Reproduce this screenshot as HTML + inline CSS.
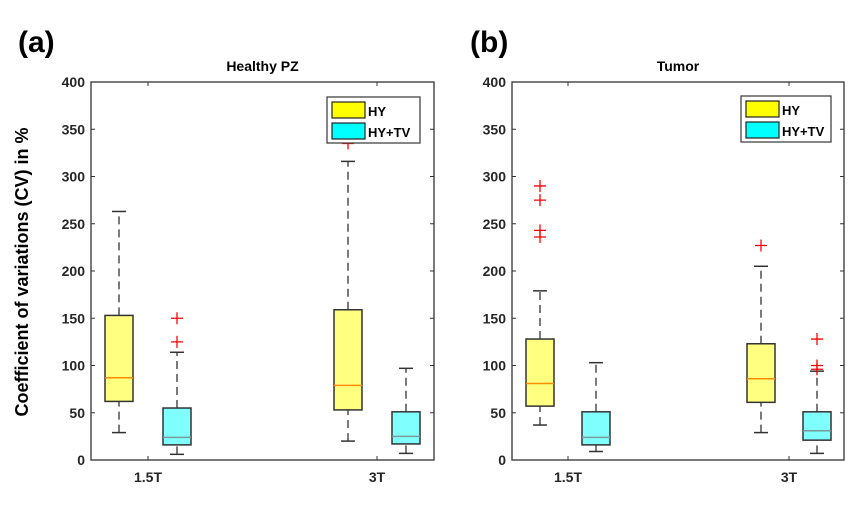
<!DOCTYPE html>
<html><head><meta charset="utf-8"><style>
body{margin:0;background:#fff;}
svg text{font-family:"Liberation Sans",Arial,sans-serif;font-weight:bold;fill:#262626;}
</style></head><body>
<svg id="chart" width="850" height="512" xmlns="http://www.w3.org/2000/svg">
<text x="18" y="52" font-size="30" style="fill:#000">(a)</text>
<text x="470" y="52" font-size="30" style="fill:#000">(b)</text>
<text transform="translate(28,272) rotate(-90)" text-anchor="middle" font-size="18" style="fill:#000">Coefficient of variations (CV) in %</text>
</svg>
<script>
const categories = ["1.5T","3T"];
const yTicks = [0,50,100,150,200,250,300,350,400];
// [low whisker, q1, median, q3, high whisker]
const healthyHY = [[29,62,87,153,263],[20,53,79,159,316]];
const healthyTV = [[6,16,24,55,114],[7,17,25,51,97]];
const healthyHYOut = [[],[335]];
const healthyTVOut = [[125,150],[]];
const tumorHY = [[37,57,81,128,179],[29,61,86,123,205]];
const tumorTV = [[9,16,24,51,103],[7,21,31,51,94]];
const tumorHYOut = [[290,275,243,236],[227]];
const tumorTVOut = [[],[128,100,96]];

const svg = document.getElementById('chart');
const NS = 'http://www.w3.org/2000/svg';
function mk(tag, attrs, parent){const e=document.createElementNS(NS,tag);for(const k in attrs)e.setAttribute(k,attrs[k]);(parent||svg).appendChild(e);return e;}

function panel(cfg){
  const g = mk('g',{});
  
  
  const top=82,bottom=460,L=cfg.left,R=cfg.right;
  const y = v => bottom - (v/400)*(bottom-top);
  const x = i => cfg.ticks[i];
  const t = mk('text',{x:(L+R)/2,y:71,'text-anchor':'middle','font-size':14,style:'fill:#000'},g);
  t.textContent = cfg.title;
  
  
  yTicks.forEach(v=>{
    mk('line',{x1:L,x2:L+4,y1:y(v),y2:y(v),stroke:'#333'},g);
    mk('line',{x1:R,x2:R-4,y1:y(v),y2:y(v),stroke:'#333'},g);
    const lt = mk('text',{x:L-6,y:y(v)+5,'text-anchor':'end','font-size':14},g);
    lt.textContent = v;
    
    
  });
  categories.forEach((c,i)=>{
    mk('line',{x1:x(i),x2:x(i),y1:bottom,y2:bottom-4,stroke:'#333'},g);
    mk('line',{x1:x(i),x2:x(i),y1:top,y2:top+4,stroke:'#333'},g);
    const ct = mk('text',{x:x(i),y:bottom+22,'text-anchor':'middle','font-size':14},g);
    ct.textContent = c;
    
    
  });
  function box(d, cx, fill, medColor, outs){
    const w=28;
    const bg = mk('g',{},g);
    
    
    mk('line',{x1:cx,x2:cx,y1:y(d[0]),y2:y(d[1]),stroke:'#333','stroke-dasharray':'8,5','stroke-width':1.3},bg);
    mk('line',{x1:cx,x2:cx,y1:y(d[3]),y2:y(d[4]),stroke:'#333','stroke-dasharray':'8,5','stroke-width':1.3},bg);
    mk('line',{x1:cx-7,x2:cx+7,y1:y(d[0]),y2:y(d[0]),stroke:'#333','stroke-width':1.5},bg);
    mk('line',{x1:cx-7,x2:cx+7,y1:y(d[4]),y2:y(d[4]),stroke:'#333','stroke-width':1.5},bg);
    mk('rect',{x:cx-w/2,y:y(d[3]),width:w,height:y(d[1])-y(d[3]),fill:fill,stroke:'#333','stroke-width':1.5},bg);
    mk('line',{x1:cx-w/2,x2:cx+w/2,y1:y(d[2]),y2:y(d[2]),stroke:medColor,'stroke-width':1.5},bg);
    outs.forEach(o=>{
      mk('path',{d:`M${cx-6} ${y(o)}h12M${cx} ${y(o)-6}v12`,stroke:'#f00','stroke-width':1.3},bg);
    });
  }
  categories.forEach((c,i)=>{
    box(cfg.hy[i], x(i)-cfg.off, '#ffff80', '#ff8c00', cfg.hyOut[i]);
    box(cfg.tv[i], x(i)+cfg.off, '#80ffff', '#7a9a9a', cfg.tvOut[i]);
  });
  mk('rect',{x:L,y:top,width:R-L,height:bottom-top,fill:'none',stroke:'#333','stroke-width':1.3},g);
  const lg = mk('g',{},g);
  
  
  const lx=cfg.leg[0], ly=cfg.leg[1];
  mk('rect',{x:lx,y:ly,width:cfg.leg[2],height:46,fill:'#fff',stroke:'#444','stroke-width':1.3},lg);
  mk('rect',{x:lx+5,y:ly+5,width:33,height:16,fill:'#ffff00',stroke:'#222','stroke-width':1.2},lg);
  mk('rect',{x:lx+5,y:ly+26,width:33,height:16,fill:'#00ffff',stroke:'#222','stroke-width':1.2},lg);
  const l1=mk('text',{x:lx+41,y:ly+19,'font-size':13,style:'fill:#000'},lg); l1.textContent='HY';
  
  
  const l2=mk('text',{x:lx+41,y:ly+40,'font-size':13,style:'fill:#000'},lg); l2.textContent='HY+TV';
  
  
}
panel({name:'panel-healthy-pz',title:'Healthy PZ',left:91,right:434,ticks:[148,377],off:29,
  hy:healthyHY,tv:healthyTV,hyOut:healthyHYOut,tvOut:healthyTVOut,leg:[327,97,93]});
panel({name:'panel-tumor',title:'Tumor',left:512,right:844,ticks:[568,789],off:28,
  hy:tumorHY,tv:tumorTV,hyOut:tumorHYOut,tvOut:tumorTVOut,leg:[741,96,90]});
</script>
</body></html>
